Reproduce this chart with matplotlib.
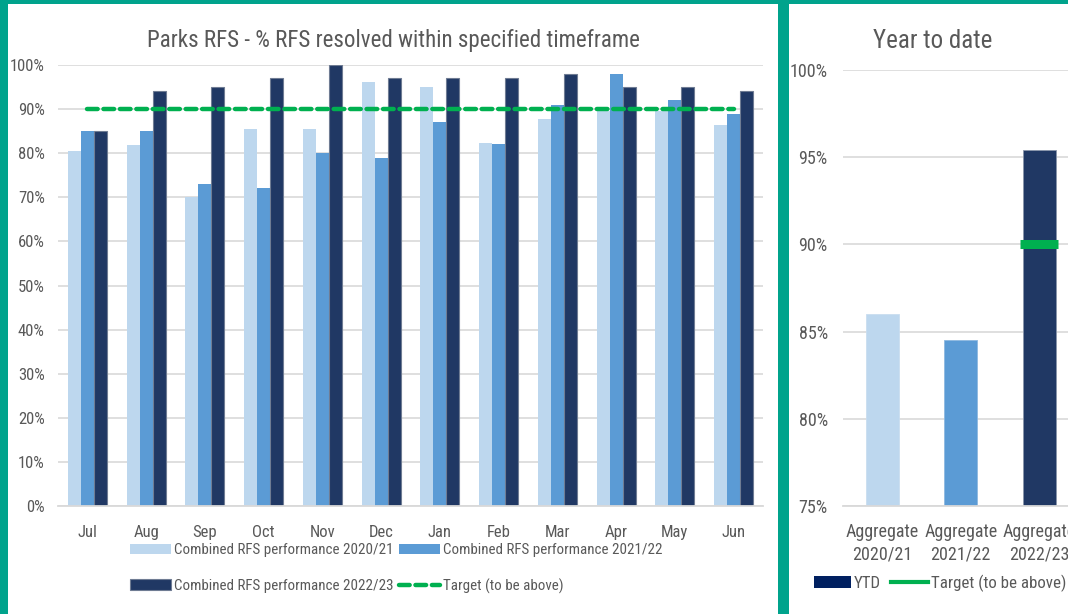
import numpy as np
import matplotlib
matplotlib.use('Agg')
import matplotlib.pyplot as plt
from matplotlib.patches import Rectangle, Patch
from matplotlib.lines import Line2D
from matplotlib.ticker import FuncFormatter

plt.rcParams['font.family'] = ['Roboto Condensed', 'Lato', 'DejaVu Sans']

# Monthly data (% of RFS resolved within timeframe)
months = ['Jul', 'Aug', 'Sep', 'Oct', 'Nov', 'Dec', 'Jan', 'Feb', 'Mar', 'Apr', 'May', 'Jun']
perf_2020_21 = [80.6, 81.8, 70.1, 85.4, 85.6, 96.2, 94.9, 82.2, 87.7, 89.5, 89.5, 86.5]
perf_2021_22 = [85, 85, 73, 72, 80, 79, 87, 82, 91, 98, 92, 89]
perf_2022_23 = [85, 94, 95, 97, 100, 97, 97, 97, 98, 95, 95, 94]
target_monthly = [90] * 12

# Year to date
ytd_labels = ['Aggregate\n2020/21', 'Aggregate\n2021/22', 'Aggregate\n2022/23']
ytd_values = [86.0, 84.5, 95.4]
ytd_target = [np.nan, np.nan, 90]

LIGHT = '#BDD7EE'
MID = '#5B9BD5'
DARK = '#203864'
GREEN = '#00B050'
TEAL = '#00A38C'
TXT = '#595959'
GRID = '#D9D9D9'

W, H = 1068, 614
fig = plt.figure(figsize=(W / 100, H / 100), dpi=100, facecolor=TEAL)

# white panels inside the teal frame
fig.patches.append(Rectangle((8 / W, 0), 770 / W, 1 - 4 / H, transform=fig.transFigure,
                             facecolor='white', edgecolor='none', zorder=-5))
fig.patches.append(Rectangle((789 / W, 0), 300 / W, 1 - 4 / H, transform=fig.transFigure,
                             facecolor='white', edgecolor='none', zorder=-5))

pct = FuncFormatter(lambda v, _: f'{v:.0f}%')


def style_axes(ax, size):
    ax.set_facecolor('none')
    ax.set_zorder(2)
    for s in ['top', 'right', 'left']:
        ax.spines[s].set_visible(False)
    ax.spines['bottom'].set_color(GRID)
    ax.spines['bottom'].set_linewidth(1.3)
    ax.yaxis.grid(True, color=GRID, linewidth=1.2)
    ax.set_axisbelow(True)
    ax.tick_params(length=0, colors=TXT, labelsize=size)
    ax.yaxis.set_major_formatter(pct)


# ---- monthly chart ----
ax1 = fig.add_axes([58 / W, 1 - 506 / H, 705 / W, 441 / H])
style_axes(ax1, 12)
x = np.arange(len(months))
bw = 0.222
ax1.bar(x - bw, perf_2020_21, bw, color=LIGHT, label='Combined RFS performance 2020/21')
ax1.bar(x, perf_2021_22, bw, color=MID, label='Combined RFS performance 2021/22')
ax1.bar(x + bw, perf_2022_23, bw, color=DARK, edgecolor='#6F7C93', linewidth=0.8,
        label='Combined RFS performance 2022/23')
ax1.plot(x, target_monthly, color=GREEN, linewidth=3.2, linestyle=(0, (2.4, 1.3)),
         dash_capstyle='round', label='Target (to be above)')
ax1.set_xlim(-0.5, len(months) - 0.5)
ax1.set_ylim(0, 100)
ax1.set_yticks(range(0, 101, 10))
ax1.set_xticks(x, months)
ax1.tick_params(axis='y', pad=9.5)
ax1.tick_params(axis='x', pad=14)

h, l = ax1.get_legend_handles_labels()
order = [1, 3, 2, 0]  # light, dark | mid, target (column-wise fill)
fig.legend([h[i] for i in order], [l[i] for i in order], ncol=2,
           loc='upper left', bbox_to_anchor=(130 / W, 1 - 543 / H),
           frameon=False, fontsize=10.8, labelcolor=TXT, borderpad=0, borderaxespad=0,
           handlelength=2.7, handleheight=0.7, handletextpad=0.25,
           columnspacing=0.35, labelspacing=1.45)

fig.text(393 / W, 1 - 41 / H, 'Parks RFS - % RFS resolved within specified timeframe',
         ha='center', va='center', fontsize=16.6, color=TXT)

# ---- year to date chart ----
ax2 = fig.add_axes([843 / W, 1 - 506 / H, 235.5 / W, 436 / H])
style_axes(ax2, 13)
xc = np.arange(len(ytd_labels))
ax2.bar(xc, ytd_values, 0.42, color=[LIGHT, MID, DARK], edgecolor=['#C9DDF0', '#8DB8E0', '#8A96AB'],
        linewidth=0.6)
ax2.plot(xc, ytd_target, linestyle='none', marker='_', markersize=27, markeredgewidth=6.5,
         color=GREEN)
ax2.set_xlim(-0.5, len(ytd_labels) - 0.5)
ax2.set_ylim(75, 100)
ax2.set_yticks(range(75, 101, 5))
ax2.set_xticks(xc, ytd_labels, linespacing=1.35)
ax2.tick_params(axis='y', pad=11)
ax2.tick_params(axis='x', pad=12)

handles2 = [Patch(facecolor='#002060', edgecolor='none'),
            Line2D([], [], color=GREEN, linewidth=3)]
fig.legend(handles2, ['YTD', 'Target (to be above)'], ncol=2, loc='center left',
           bbox_to_anchor=(814 / W, 1 - 583 / H), frameon=False, fontsize=12.2,
           labelcolor=TXT, borderpad=0, borderaxespad=0,
           handlelength=2.2, handleheight=0.7, handletextpad=0.15,
           columnspacing=0.6)

fig.text(933 / W, 1 - 41 / H, 'Year to date', ha='center', va='center', fontsize=18, color=TXT)

fig.savefig('out.png', dpi=100, facecolor=fig.get_facecolor())
